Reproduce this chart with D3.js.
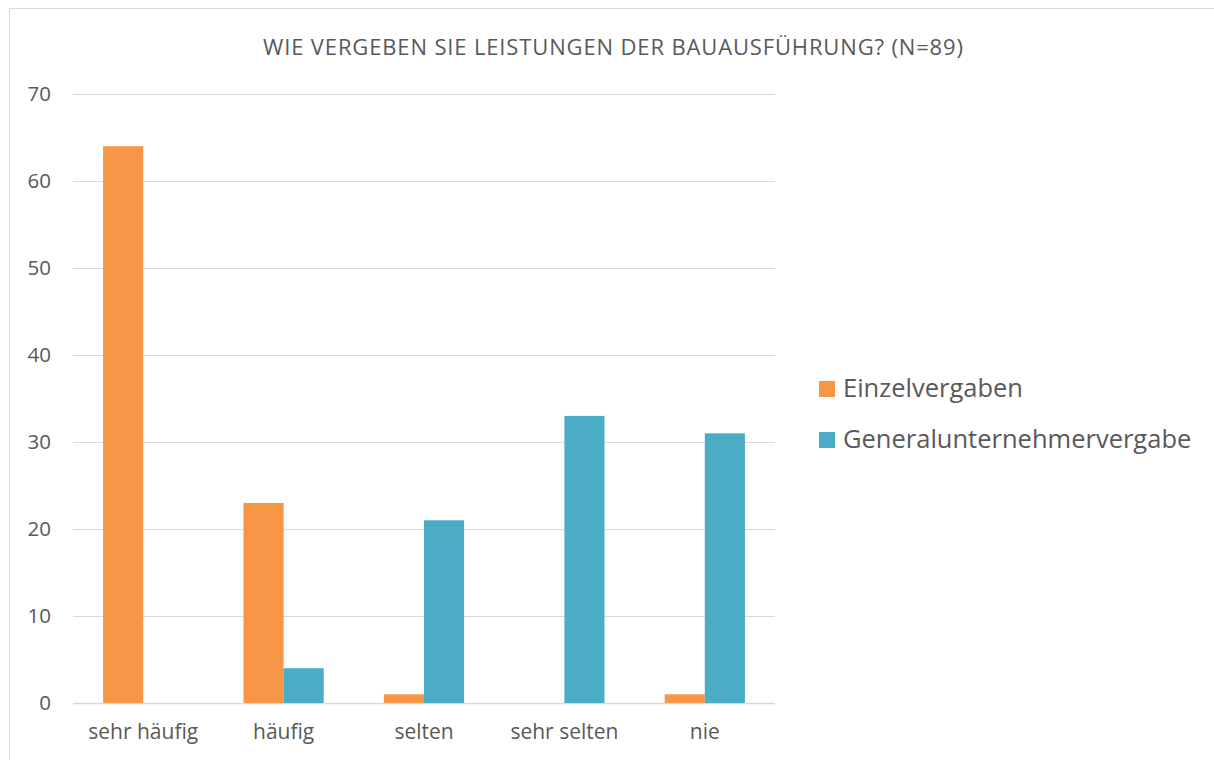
<!DOCTYPE html>
<html lang="de">
  <head>
    <meta charset="UTF-8" />
    <title>Vergabe Bauausführung</title>
    <script src="https://cdn.jsdelivr.net/npm/d3@7"></script>
    <style>
      body { margin: 0; background: #fff; }
      text { font-family: "Open Sans", "Noto Sans", sans-serif; fill: #595959; }
    </style>
  </head>
  <body>
    <div id="chart"></div>
    <script>
      // data
      var categories = ["sehr häufig", "häufig", "selten", "sehr selten", "nie"];
      var seriesNames = ["Einzelvergaben", "Generalunternehmervergabe"];
      var einzel = [64, 23, 1, 0, 1];
      var general = [0, 4, 21, 33, 31];
      var yTicks = [0, 10, 20, 30, 40, 50, 60, 70];
      var colors = ["#F79646", "#4BACC6"];

      var W = 1214, H = 760;
      var margin = { top: 94, right: 439, bottom: 57, left: 73 };
      var w = W - margin.left - margin.right,
          h = H - margin.top - margin.bottom;

      var svg = d3.select("#chart").append("svg")
        .attr("width", W)
        .attr("height", H);

      // chart border (runs off the right/bottom edge)
      svg.append("rect")
        .attr("x", 9.5).attr("y", 8.5)
        .attr("width", W + 20).attr("height", H + 20)
        .attr("fill", "none")
        .attr("stroke", "#d9d9d9")
        .attr("stroke-width", 1);

      var g = svg.append("g")
        .attr("transform", "translate(" + margin.left + "," + margin.top + ")");

      var x0 = d3.scaleBand()
        .domain(categories)
        .range([0, w])
        .paddingInner(0)
        .paddingOuter(0);

      // two bars in the middle of each band, gap 150%
      var x1 = d3.scaleBand()
        .domain(seriesNames)
        .range([0, x0.bandwidth()])
        .paddingOuter(0.75)
        .paddingInner(0);

      var y = d3.scaleLinear()
        .domain([0, 70])
        .range([h, 0]);

      // gridlines
      g.append("g")
        .selectAll("line")
        .data(yTicks)
        .enter()
        .append("line")
        .attr("x1", 0).attr("x2", w)
        .attr("y1", function(d) { return Math.round(y(d)) + 0.5; })
        .attr("y2", function(d) { return Math.round(y(d)) + 0.5; })
        .attr("stroke", "#d9d9d9")
        .attr("stroke-width", function(d) { return d === 0 ? 1.5 : 1; });

      // y axis labels
      var yAxis = d3.axisLeft(y).tickValues(yTicks).tickSize(0).tickPadding(22);
      g.append("g")
        .attr("class", "y-axis")
        .call(yAxis)
        .call(function(s) { s.select(".domain").remove(); })
        .selectAll("text")
        .style("font-size", "20.5px")
        .style("fill", "#595959");

      // bars
      var rows = categories.map(function(c, i) {
        return { cat: c, values: [einzel[i], general[i]] };
      });

      var groups = g.selectAll(".grp")
        .data(rows)
        .enter()
        .append("g")
        .attr("class", "grp")
        .attr("transform", function(d) { return "translate(" + x0(d.cat) + ",0)"; });

      groups.selectAll("rect")
        .data(function(d) {
          return d.values.map(function(v, j) { return { key: seriesNames[j], value: v, j: j }; });
        })
        .enter()
        .append("rect")
        .attr("x", function(d) { return x1(d.key); })
        .attr("width", x1.bandwidth())
        .attr("y", function(d) { return y(d.value); })
        .attr("height", function(d) { return h - y(d.value); })
        .attr("fill", function(d) { return colors[d.j]; });

      // x axis labels
      var xAxis = d3.axisBottom(x0).tickSize(0).tickPadding(21);
      g.append("g")
        .attr("class", "x-axis")
        .attr("transform", "translate(0," + h + ")")
        .call(xAxis)
        .call(function(s) { s.select(".domain").remove(); })
        .selectAll("text")
        .style("font-size", "21px")
        .style("fill", "#595959");

      // title
      svg.append("text")
        .attr("x", 613)
        .attr("y", 55)
        .attr("text-anchor", "middle")
        .style("font-size", "22px")
        .attr("textLength", 700)
        .attr("lengthAdjust", "spacing")
        .text("WIE VERGEBEN SIE LEISTUNGEN DER BAUAUSFÜHRUNG? (N=89)");

      // legend
      var legend = svg.append("g")
        .attr("transform", "translate(819,381)");
      var items = legend.selectAll("g")
        .data(seriesNames)
        .enter()
        .append("g")
        .attr("transform", function(d, i) { return "translate(0," + (i * 51) + ")"; });
      items.append("rect")
        .attr("width", 16).attr("height", 16)
        .attr("fill", function(d, i) { return colors[i]; });
      items.append("text")
        .attr("x", 24)
        .attr("y", 16)
        .style("font-size", "25.5px")
        .text(function(d) { return d; });
    </script>
  </body>
</html>
